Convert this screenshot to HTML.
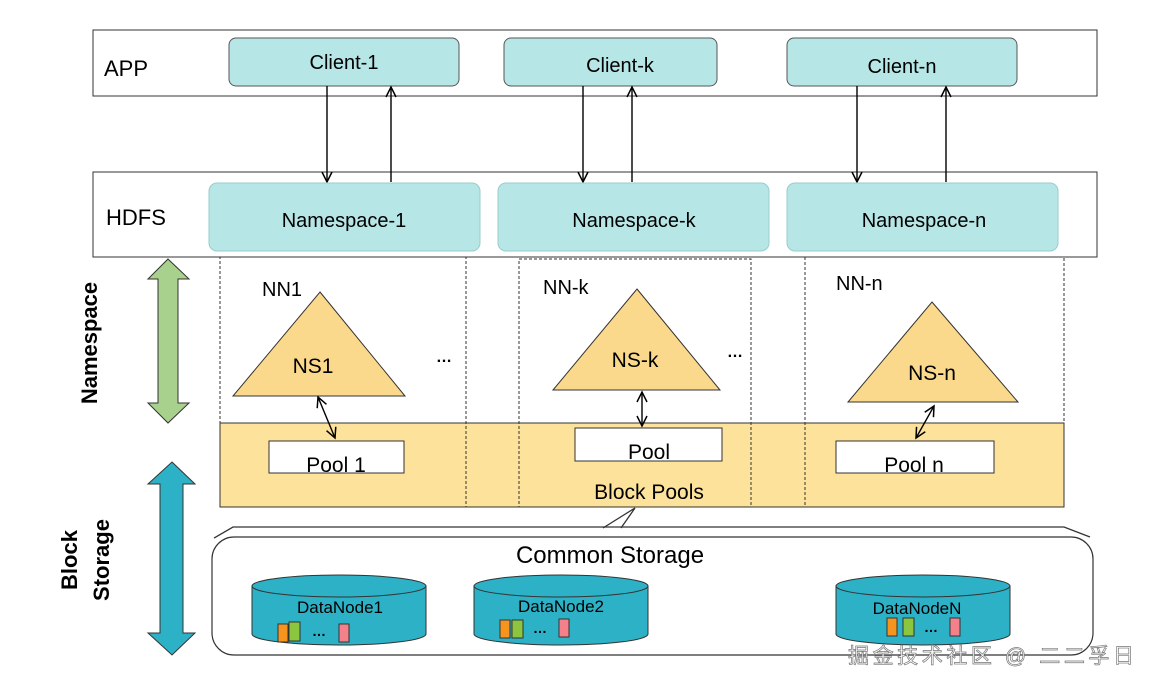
<!DOCTYPE html>
<html><head><meta charset="utf-8"><style>
html,body{margin:0;padding:0;background:#fff}
svg{display:block}
text{font-family:"Liberation Sans","Noto Sans CJK SC",sans-serif;fill:#000}
</style></head><body>
<svg width="1155" height="689" viewBox="0 0 1155 689" xmlns="http://www.w3.org/2000/svg">
<defs>
<marker id="a" markerWidth="14" markerHeight="14" refX="11" refY="7" orient="auto" markerUnits="userSpaceOnUse"><path d="M1,2 L11,7 L1,12" fill="none" stroke="#000" stroke-width="1.5"/></marker>
<marker id="b" markerWidth="14" markerHeight="14" refX="3" refY="7" orient="auto" markerUnits="userSpaceOnUse"><path d="M13,2 L3,7 L13,12" fill="none" stroke="#000" stroke-width="1.5"/></marker>
</defs>
<rect x="93" y="30" width="1004" height="66" fill="#fff" stroke="#333" stroke-width="1"/>
<text x="104" y="76" font-size="22">APP</text>
<g fill="#b7e6e7" stroke="#555" stroke-width="1">
<rect x="229" y="38" width="230" height="48" rx="7"/>
<rect x="504" y="38" width="213" height="48" rx="7"/>
<rect x="787" y="38" width="230" height="48" rx="7"/>
</g>
<g font-size="20" text-anchor="middle">
<text x="344" y="69">Client-1</text><text x="620" y="72">Client-k</text><text x="902" y="73">Client-n</text>
</g>
<rect x="93" y="172" width="1004" height="85" fill="#fff" stroke="#333" stroke-width="1"/>
<text x="106" y="225" font-size="22">HDFS</text>
<g stroke="#000" stroke-width="1.4">
<line x1="327" y1="86" x2="327" y2="182" marker-end="url(#a)"/>
<line x1="391" y1="182" x2="391" y2="87" marker-end="url(#a)"/>
<line x1="583" y1="86" x2="583" y2="182" marker-end="url(#a)"/>
<line x1="632" y1="182" x2="632" y2="87" marker-end="url(#a)"/>
<line x1="857" y1="86" x2="857" y2="182" marker-end="url(#a)"/>
<line x1="946" y1="182" x2="946" y2="87" marker-end="url(#a)"/>
</g>
<g fill="#b7e6e7" stroke="#9cc" stroke-width="1">
<rect x="209" y="183" width="271" height="68" rx="8"/>
<rect x="498" y="183" width="271" height="68" rx="8"/>
<rect x="787" y="183" width="271" height="68" rx="8"/>
</g>
<g font-size="20" text-anchor="middle">
<text x="344" y="227">Namespace-1</text><text x="634" y="227">Namespace-k</text><text x="924" y="227">Namespace-n</text>
</g>
<rect x="220" y="423" width="844" height="84" fill="#fde29b" stroke="#333" stroke-width="1"/>
<g fill="none" stroke="#333" stroke-width="1" stroke-dasharray="3,2">
<rect x="220" y="257" width="246" height="250"/>
<rect x="519" y="259" width="232" height="248"/>
<rect x="805" y="257" width="259" height="250"/>
</g>
<g font-size="20">
<text x="262" y="296">NN1</text><text x="543" y="294">NN-k</text><text x="836" y="290">NN-n</text>
<text x="436" y="362" font-size="16" font-weight="bold">…</text><text x="727" y="357" font-size="16" font-weight="bold">…</text>
</g>
<g fill="#fbd98c" stroke="#333" stroke-width="1">
<polygon points="320,292 405,396 233,396"/>
<polygon points="637,289 720,390 553,390"/>
<polygon points="932,302 1018,402 848,402"/>
</g>
<g font-size="21" text-anchor="middle">
<text x="313" y="373">NS1</text><text x="635" y="367">NS-k</text><text x="932" y="380">NS-n</text>
</g>
<g fill="#fff" stroke="#333" stroke-width="1">
<rect x="269" y="441" width="135" height="32"/>
<rect x="575" y="428" width="147" height="33"/>
<rect x="836" y="441" width="158" height="32"/>
</g>
<g font-size="21" text-anchor="middle">
<text x="336" y="472">Pool 1</text><text x="649" y="459">Pool</text><text x="914" y="472">Pool n</text>
<text x="649" y="499">Block Pools</text>
</g>
<g stroke="#000" stroke-width="1.4">
<line x1="318" y1="397" x2="335" y2="438" marker-start="url(#b)" marker-end="url(#a)"/>
<line x1="642" y1="392" x2="642" y2="426" marker-start="url(#b)" marker-end="url(#a)"/>
<line x1="934" y1="406" x2="916" y2="438" marker-start="url(#b)" marker-end="url(#a)"/>
</g>
<polyline points="214,538 233,527 1064,527 1090,537" fill="none" stroke="#333" stroke-width="1.3"/>
<polyline points="603,528 635,508 621,528" fill="none" stroke="#333" stroke-width="1.3"/>
<rect x="212" y="537" width="881" height="118" rx="22" fill="#fff" stroke="#333" stroke-width="1.2"/>
<text x="610" y="563" font-size="24" text-anchor="middle">Common Storage</text>
<g stroke="#333" stroke-width="1">
<g transform="translate(252,0)">
<path d="M0,586 L0,634 A87,11 0 0 0 174,634 L174,586" fill="#2db1c6"/>
<ellipse cx="87" cy="586" rx="87" ry="11" fill="#2db1c6"/>
</g>
<g transform="translate(474,0)">
<path d="M0,586 L0,634 A87,11 0 0 0 174,634 L174,586" fill="#2db1c6"/>
<ellipse cx="87" cy="586" rx="87" ry="11" fill="#2db1c6"/>
</g>
<g transform="translate(836,0)">
<path d="M0,586 L0,634 A87,11 0 0 0 174,634 L174,586" fill="#2db1c6"/>
<ellipse cx="87" cy="586" rx="87" ry="11" fill="#2db1c6"/>
</g>
<rect x="278" y="624" width="10" height="18" fill="#f7941d"/><rect x="289" y="622" width="11" height="19" fill="#8cc63f"/><rect x="339" y="624" width="10" height="18" fill="#f4808a"/>
<rect x="500" y="620" width="10" height="18" fill="#f7941d"/><rect x="512" y="620" width="11" height="18" fill="#8cc63f"/><rect x="559" y="619" width="10" height="18" fill="#f4808a"/>
<rect x="887" y="618" width="10" height="18" fill="#f7941d"/><rect x="903" y="618" width="11" height="18" fill="#8cc63f"/><rect x="950" y="618" width="10" height="18" fill="#f4808a"/>
</g>
<g font-size="17" text-anchor="middle">
<text x="340" y="613">DataNode1</text><text x="561" y="612">DataNode2</text><text x="917" y="614">DataNodeN</text>
</g>
<g font-size="14" font-weight="bold"><text x="312" y="636">…</text><text x="533" y="633">…</text><text x="924" y="632">…</text></g>
<polygon points="168,259 189,279 178,279 178,403 189,403 168,423 148,403 158,403 158,279 148,279" fill="#a9d18e" stroke="#333" stroke-width="1"/>
<polygon points="172,462 195,484 183,484 183,633 195,633 172,655 148,633 160,633 160,484 148,484" fill="#2db1c6" stroke="#333" stroke-width="1"/>
<text transform="translate(97,343) rotate(-90)" font-size="22" font-weight="bold" text-anchor="middle">Namespace</text>
<text transform="translate(77,560) rotate(-90)" font-size="22" font-weight="bold" text-anchor="middle">Block</text>
<text transform="translate(109,560) rotate(-90)" font-size="22" font-weight="bold" text-anchor="middle">Storage</text>
<text x="848" y="663" font-size="21" textLength="286" stroke="#777" stroke-width="0.7" style="fill:#fff">掘金技术社区 @ 二二孚日</text>
</svg>
</body></html>
